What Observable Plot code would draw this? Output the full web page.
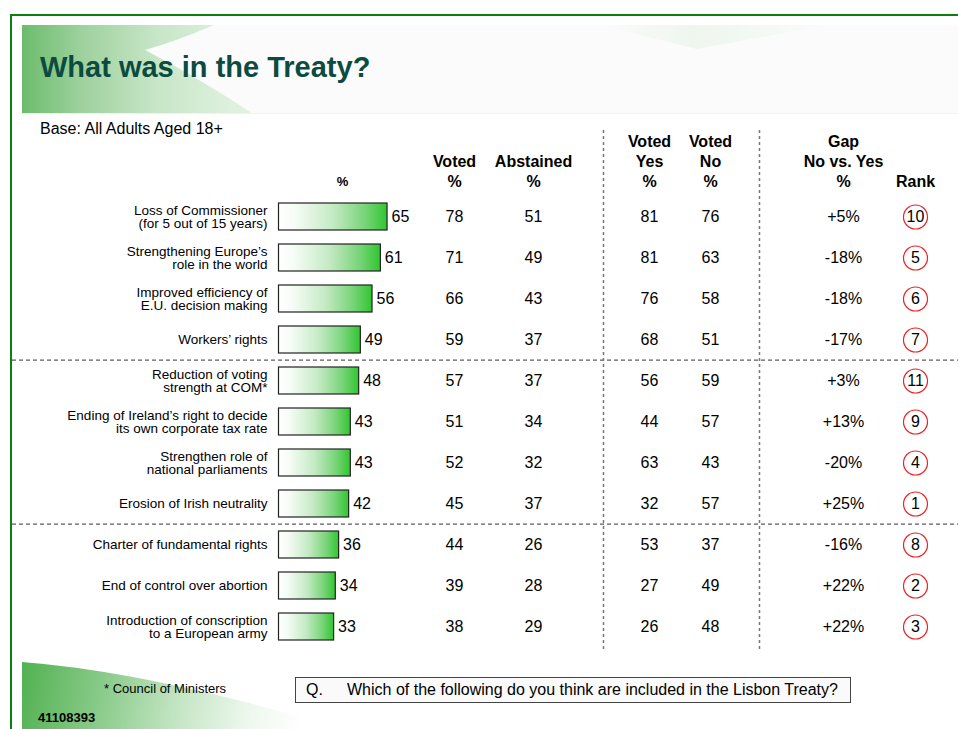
<!DOCTYPE html>
<html>
<head>
<meta charset="utf-8">
<script src="https://cdn.jsdelivr.net/npm/d3@7"></script>
<script src="https://cdn.jsdelivr.net/npm/@observablehq/plot@0.6"></script>
<style>
  html, body { margin: 0; padding: 0; background: #fff; }
  #page { position: relative; width: 958px; height: 729px; overflow: hidden; background: #fff;
          font-family: "Liberation Sans", Arial, sans-serif; color: #000; }
  .abs { position: absolute; }
  #frame { left: 10px; top: 14px; width: 960px; height: 720px; border-top: 2px solid #0a820a; border-left: 2px solid #0a820a; }
  #band { left: 22px; top: 25px; width: 936px; height: 88px; background: #fbfbfb; border-bottom: 1px solid #eef4ee; }
  #bandGreen { left: 22px; top: 25px; width: 240px; height: 88px;
      background: linear-gradient(to right, #6cbc6c 0%, #9ed19e 25%, #c6e5c6 55%, #d9eed9 80%, #e6f3e6 100%);
      clip-path: path('M0 0 L192 0 Q155 16 123 25 Q175 52 230 88 L0 88 Z'); }
  #bandTri { left: 600px; top: 25px; width: 230px; height: 24px;
      background: linear-gradient(to right, rgba(240,248,240,0) 0%, #eef6ee 40%, #f1f8f1 60%, rgba(248,252,248,0) 100%);
      clip-path: polygon(0 0, 100% 0, 42% 100%); }
  #bottomGreen { left: 22px; top: 640px; width: 320px; height: 89px;
      background: linear-gradient(100deg, #4fb04f 0%, #86c986 25%, #c4e5c4 50%, #eef8ee 72%, #ffffff 88%);
      clip-path: path('M0 22 Q130 32 320 89 L0 89 Z'); }
  #title { left: 40px; top: 49px; font-size: 29px; font-weight: bold; color: #0c4b3f; line-height: 36px; white-space: nowrap; }
  #base { left: 40px; top: 120px; font-size: 16px; line-height: 18px; white-space: nowrap; }
  #chart { left: 0; top: 0; }
  #foot { left: 104px; top: 681px; font-size: 13px; line-height: 16px; white-space: nowrap; }
  #code { left: 38px; top: 710px; font-size: 13px; font-weight: bold; line-height: 16px; }
  #qbox { left: 295px; top: 677px; width: 554px; height: 24px; border: 1px solid #444; background: #fafafa;
          font-size: 16px; line-height: 24px; white-space: nowrap; }
  #qbox .q { position: absolute; left: 10px; }
  #qbox .t { position: absolute; left: 51px; }
</style>
</head>
<body>
<div id="page">
  <div id="band" class="abs"></div>
  <div id="bandGreen" class="abs"></div>
  <div id="bandTri" class="abs"></div>
  <div id="bottomGreen" class="abs"></div>
  <div id="frame" class="abs"></div>
  <div id="title" class="abs">What was in the Treaty?</div>
  <div id="base" class="abs">Base: All Adults Aged 18+</div>
  <div id="chart" class="abs"></div>
  <div id="foot" class="abs">* Council of Ministers</div>
  <div id="code" class="abs">41108393</div>
  <div id="qbox" class="abs"><span class="q">Q.</span><span class="t">Which of the following do you think are included in the Lisbon Treaty?</span></div>
</div>
<script>
// ---- data ----
const items = [
  "Loss of Commissioner\n(for 5 out of 15 years)",
  "Strengthening Europe’s\nrole in the world",
  "Improved efficiency of\nE.U. decision making",
  "Workers’ rights",
  "Reduction of voting\nstrength at COM*",
  "Ending of Ireland’s right to decide\nits own corporate tax rate",
  "Strengthen role of\nnational parliaments",
  "Erosion of Irish neutrality",
  "Charter of fundamental rights",
  "End of control over abortion",
  "Introduction of conscription\nto a European army"
];
const overall   = [65, 61, 56, 49, 48, 43, 43, 42, 36, 34, 33];
const voted     = [78, 71, 66, 59, 57, 51, 52, 45, 44, 39, 38];
const abstained = [51, 49, 43, 37, 37, 34, 32, 37, 26, 28, 29];
const votedYes  = [81, 81, 76, 68, 56, 44, 63, 32, 53, 27, 26];
const votedNo   = [76, 63, 58, 51, 59, 57, 43, 57, 37, 49, 48];
const gap       = ["+5%", "-18%", "-18%", "-17%", "+3%", "+13%", "-20%", "+25%", "-16%", "+22%", "+22%"];
const rank      = [10, 5, 6, 7, 11, 9, 4, 1, 8, 2, 3];
const groupStarts = [items[4], items[8]];
const headers = [
  {text: "%", col: "bar"},
  {text: "Voted\n%", col: "voted"},
  {text: "Abstained\n%", col: "abstained"},
  {text: "Voted\nYes\n%", col: "votedYes"},
  {text: "Voted\nNo\n%", col: "votedNo"},
  {text: "Gap\nNo vs. Yes\n%", col: "gap"},
  {text: "Rank", col: "rank"}
];

// ---- layout (pixels) ----
const colX = {bar: 342, voted: 454, abstained: 533, votedYes: 649, votedNo: 710, gap: 843, rank: 915};
const dividerX = [603, 759];
const labelRight = 267;
const step = 41.8;
const barLeft = 278.5;

const rows = items.map((label, i) => ({
  label, overall: overall[i], voted: voted[i], abstained: abstained[i],
  votedYes: votedYes[i], votedNo: votedNo[i], gap: gap[i], rank: rank[i]
}));

const valueCols = ["voted", "abstained", "votedYes", "votedNo", "gap"];

const chart = Plot.plot({
  width: 958,
  height: 729,
  margin: 0,
  style: {background: "transparent", fontFamily: "'Liberation Sans', Arial, sans-serif", color: "#000"},
  x: {domain: [0, 100], range: [barLeft, barLeft + 167], axis: null},
  y: {domain: items, range: [213.2 - step / 2, 213.2 + 10 * step + step / 2], paddingInner: 0.33, paddingOuter: 0.165, axis: null},
  marks: [
    // group separators
    Plot.ruleY(groupStarts, {y: d => d, dy: -step / 2, stroke: "#333", strokeWidth: 1, strokeDasharray: "4,3", insetLeft: 12}),
    // column separators
    ...dividerX.map(px => Plot.ruleX([0], {dx: px - barLeft, stroke: "#777", strokeWidth: 1.5, strokeDasharray: "3,3", insetTop: 130, insetBottom: 79})),
    // bars
    Plot.barX(rows, {y: "label", x1: 0, x2: "overall", fill: "url(#barGrad)", stroke: "#222", strokeWidth: 1.2}),
    Plot.text(rows, {y: "label", x: "overall", text: d => String(d.overall), textAnchor: "start", dx: 4, fontSize: 16}),
    // row labels
    Plot.text(rows, {y: "label", text: "label", frameAnchor: "left", dx: labelRight, textAnchor: "end", fontSize: 13.5, lineHeight: 1.0}),
    // value columns
    ...valueCols.map(c => Plot.text(rows, {y: "label", text: d => String(d[c]), frameAnchor: "left", dx: colX[c], textAnchor: "middle", fontSize: 16})),
    // rank circles
    Plot.dot(rows, {y: "label", frameAnchor: "left", dx: colX.rank, r: 12, stroke: "#e82424", strokeWidth: 1.2, fill: "white"}),
    Plot.text(rows, {y: "label", text: d => String(d.rank), frameAnchor: "left", dx: colX.rank, textAnchor: "middle", fontSize: 16}),
    // headers
    ...headers.map(h => Plot.text([h], {
      text: "text", frameAnchor: "top-left", dx: colX[h.col], dy: h.col === "bar" ? 185 : 186,
      textAnchor: "middle", lineAnchor: "bottom", fontWeight: "bold", fontSize: h.col === "bar" ? 13 : 16, lineHeight: 1.22
    }))
  ]
});

const defs = document.createElementNS("http://www.w3.org/2000/svg", "defs");
defs.innerHTML = '<linearGradient id="barGrad" x1="0" x2="1" y1="0" y2="0">' +
  '<stop offset="0" stop-color="#ffffff"/><stop offset="0.15" stop-color="#f6fcf6"/>' +
  '<stop offset="0.5" stop-color="#c4eac4"/><stop offset="0.8" stop-color="#77d477"/>' +
  '<stop offset="1" stop-color="#30c630"/></linearGradient>';
chart.prepend(defs);
document.getElementById("chart").appendChild(chart);
</script>
</body>
</html>
